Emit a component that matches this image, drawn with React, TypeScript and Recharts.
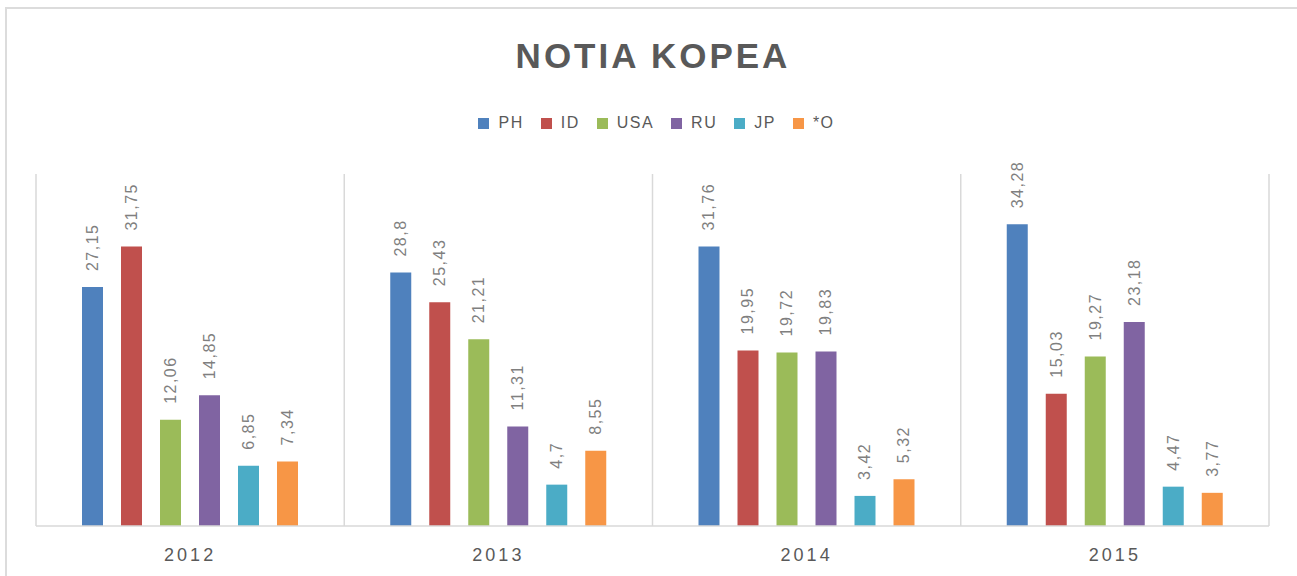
import React from 'react';
import { BarChart, Bar, XAxis, YAxis, CartesianGrid, LabelList } from 'recharts';

const categories = ['2012', '2013', '2014', '2015'];
const seriesNames = ['PH', 'ID', 'USA', 'RU', 'JP', '*O'];
const seriesColors = ['#4f81bd', '#c0504d', '#9bbb59', '#8064a2', '#4bacc6', '#f79646'];
const PH = [27.15, 28.8, 31.76, 34.28];
const ID = [31.75, 25.43, 19.95, 15.03];
const USA = [12.06, 21.21, 19.72, 19.27];
const RU = [14.85, 11.31, 19.83, 23.18];
const JP = [6.85, 4.7, 3.42, 4.47];
const O = [7.34, 8.55, 5.32, 3.77];
const seriesValues = [PH, ID, USA, RU, JP, O];
const title = 'NOTIA KOPEA';

const data = categories.map((c, i) => {
  const row: Record<string, string | number> = { cat: c };
  seriesNames.forEach((s, j) => {
    row[s] = seriesValues[j][i];
  });
  return row;
});

const FONT = "'Liberation Sans', Arial, sans-serif";

const fmt = (v: number) => String(v).replace('.', ',');

const renderLabel = (props: any) => {
  const { x, y, width, value } = props;
  const cx = Number(x) + Number(width) / 2;
  const ty = Number(y) - 16;
  return (
    <text
      x={cx}
      y={ty}
      transform={`rotate(-90, ${cx}, ${ty})`}
      textAnchor="start"
      dominantBaseline="central"
      fill="#7f7f7f"
      fontSize={16}
      letterSpacing={1.5}
      fontFamily={FONT}
    >
      {fmt(Number(value))}
    </text>
  );
};

export default function App() {
  return (
    <div style={{ position: 'absolute', left: 0, top: 0, width: 1297, height: 576, background: '#fff', overflow: 'hidden', fontFamily: FONT }}>
      <div style={{ position: 'absolute', left: 5, top: 7, width: 1400, height: 700, borderTop: '2px solid #dcdcdc', borderLeft: '2px solid #dcdcdc' }} />
      <svg style={{ position: 'absolute', left: 0, top: 0 }} width={1297} height={100}>
        <text x={653} y={68} textAnchor="middle" fill="#595959" fontSize={35} fontWeight="bold" letterSpacing={3} fontFamily={FONT}>
          {title}
        </text>
      </svg>
      <div style={{ position: 'absolute', left: 0, top: 113, width: 1313, height: 20, display: 'flex', justifyContent: 'center', alignItems: 'center', gap: 17 }}>
        {seriesNames.map((s, i) => (
          <div key={s} style={{ display: 'flex', alignItems: 'center', height: 20 }}>
            <div style={{ width: 11, height: 11, background: seriesColors[i], marginRight: 9 }} />
            <span style={{ fontSize: 16, lineHeight: '20px', color: '#595959', letterSpacing: 1.5 }}>{s}</span>
          </div>
        ))}
      </div>
      <div style={{ position: 'absolute', left: 0, top: 0 }}>
        <BarChart width={1297} height={576} data={data} margin={{ top: 174, right: 28, bottom: 0, left: 36 }} barSize={21} barGap={18}>
          <CartesianGrid
            horizontal={false}
            vertical
            stroke="#d9d9d9"
            strokeWidth={1.5}
            verticalCoordinatesGenerator={({ offset }: any) =>
              [0, 1, 2, 3, 4].map((i) => offset.left + (offset.width * i) / categories.length)
            }
          />
          <XAxis
            dataKey="cat"
            height={50}
            axisLine={{ stroke: '#d9d9d9', strokeWidth: 1.5 }}
            tickLine={false}
            tickMargin={16}
            tick={{ fill: '#595959', fontSize: 18, letterSpacing: 3, fontFamily: FONT }}
          />
          <YAxis hide domain={[0, 40]} />
          {seriesNames.map((s, i) => (
            <Bar key={s} dataKey={s} fill={seriesColors[i]} isAnimationActive={false}>
              <LabelList dataKey={s} content={renderLabel} />
            </Bar>
          ))}
        </BarChart>
      </div>
    </div>
  );
}
